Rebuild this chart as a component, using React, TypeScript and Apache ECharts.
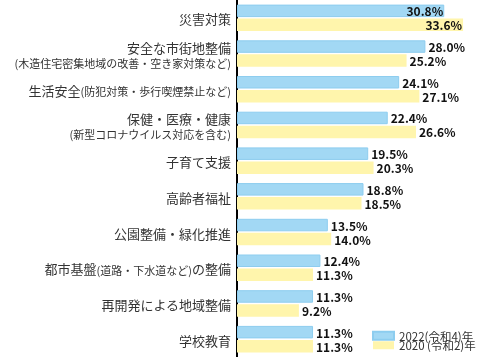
import React, { useEffect, useRef } from "react";
import * as echarts from "echarts";

const categories = [
  "災害対策",
  "安全な市街地整備\n(木造住宅密集地域の改善・空き家対策など)",
  "生活安全(防犯対策・歩行喫煙禁止など)",
  "保健・医療・健康\n(新型コロナウイルス対応を含む)",
  "子育て支援",
  "高齢者福祉",
  "公園整備・緑化推進",
  "都市基盤(道路・下水道など)の整備",
  "再開発による地域整備",
  "学校教育",
];
const seriesNames = ["2022(令和4)年", "2020 (令和2)年"];
const values2022 = [30.8, 28.0, 24.1, 22.4, 19.5, 18.8, 13.5, 12.4, 11.3, 11.3];
const values2020 = [33.6, 25.2, 27.1, 26.6, 20.3, 18.5, 14.0, 11.3, 9.2, 11.3];

const FONT = "'Noto Sans CJK JP', 'Noto Sans', sans-serif";

function formatCategory(v: string): string {
  return v
    .split("\n")
    .map((line) =>
      line
        .split(/(\([^)]*\))/)
        .filter((s) => s.length > 0)
        .map((s) => (s.startsWith("(") ? `{s|${s}}` : `{m|${s}}`))
        .join("")
    )
    .join("\n");
}

export default function App() {
  const ref = useRef<HTMLDivElement>(null);
  useEffect(() => {
    if (!ref.current) return;
    const chart = echarts.init(ref.current, null, { renderer: "svg" });
    const labelFor = (inside: boolean) => ({
      show: true,
      position: inside ? "insideRight" : "right",
      distance: inside ? 1 : 3,
      formatter: (p: any) => `${Number(p.value).toFixed(1)}%`,
      color: "#111",
      fontWeight: "bold",
      fontSize: 12,
      fontFamily: FONT,
    });
    const mkData = (arr: number[]) =>
      arr.map((v, i) => ({ value: v, label: labelFor(i === 0) }));
    chart.setOption({
      animation: false,
      textStyle: { fontFamily: FONT },
      grid: { left: 237, right: 10, top: 0, bottom: 0 },
      xAxis: {
        type: "value",
        min: 0,
        max: 37.6,
        show: false,
      },
      yAxis: {
        type: "category",
        inverse: true,
        data: categories,
        axisTick: { show: false },
        axisLine: { show: true, lineStyle: { color: "#000", width: 2 } },
        axisLabel: {
          margin: 6,
          formatter: formatCategory,
          color: "#333",
          rich: {
            m: { fontSize: 13, fontFamily: FONT, color: "#333", lineHeight: 15, verticalAlign: "bottom" },
            s: { fontSize: 11, fontFamily: FONT, color: "#333", lineHeight: 15, verticalAlign: "bottom" },
          },
        },
      },
      legend: {
        orient: "vertical",
        left: 372,
        top: 330,
        height: 40,
        padding: 0,
        itemWidth: 21,
        itemHeight: 8,
        itemGap: -2,
        icon: "rect",
        textStyle: { fontSize: 11.5, color: "#333", fontFamily: FONT, lineHeight: 11 },
        data: seriesNames,
      },
      series: [
        {
          name: seriesNames[0],
          type: "bar",
          data: mkData(values2022),
          barWidth: 12.5,
          barGap: "12%",
          itemStyle: { color: "#A2D8F4", borderColor: "#8DCDEF", borderWidth: 1 },
        },
        {
          name: seriesNames[1],
          type: "bar",
          data: mkData(values2020),
          barWidth: 12.5,
          barGap: "12%",
          itemStyle: { color: "#FFF5AC" },
        },
      ],
    });
    return () => chart.dispose();
  }, []);
  return (
    <div
      ref={ref}
      style={{ position: "fixed", left: 0, top: 0, width: 500, height: 357 }}
    />
  );
}
